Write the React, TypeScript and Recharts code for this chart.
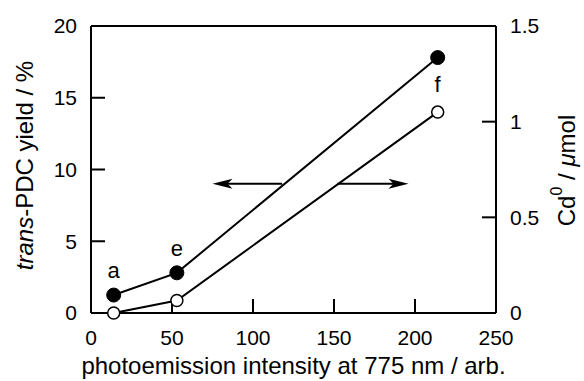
import React from "react";
import {
  LineChart,
  Line,
  XAxis,
  YAxis,
  ReferenceLine,
  LabelList,
  Label,
} from "recharts";

// photoemission intensity (arb.)
const intensity = [14, 53, 214];
// trans-PDC yield / %  (filled circles, left axis)
const pdcYield = [1.25, 2.8, 17.8];
// Cd0 / umol  (open circles, right axis)
const cdAmount = [0, 0.065, 1.05];
const sampleTagsFilled = ["a", "e", ""];
const sampleTagsOpen = ["", "", "f"];

const xTicks = [0, 50, 100, 150, 200, 250];
const leftTicks = [0, 5, 10, 15, 20];
const rightTicks = [0, 0.5, 1, 1.5];

const data = intensity.map((x, i) => ({
  x,
  pdc: pdcYield[i],
  cd: cdAmount[i],
  tagFilled: sampleTagsFilled[i],
  tagOpen: sampleTagsOpen[i],
}));

const FONT = "'Liberation Sans', Arial, sans-serif";

// arrow drawn along a reference segment, head at the second point
const arrowShape = (props: any) => {
  const { x1, y1, x2, y2 } = props;
  const dir = x2 > x1 ? 1 : -1;
  const len = 20;
  const half = 5;
  return (
    <g>
      <line x1={x1} y1={y1} x2={x2 - dir * 10} y2={y2} stroke="#000" strokeWidth={2} />
      <path
        d={`M${x2},${y2} L${x2 - dir * len},${y2 - half} L${x2 - dir * (len - 5)},${y2} L${x2 - dir * len},${y2 + half} Z`}
        fill="#000"
      />
    </g>
  );
};

const LeftTitle = (props: any) => {
  const { viewBox } = props;
  const cx = 24;
  const cy = viewBox.y + viewBox.height / 2 - 4;
  return (
    <text
      x={cx}
      y={cy}
      transform={`rotate(-90, ${cx}, ${cy})`}
      textAnchor="middle"
      dominantBaseline="central"
      fontFamily={FONT}
      fontSize={24}
      fill="#000"
    >
      <tspan fontStyle="italic">trans</tspan>
      <tspan>-PDC yield / %</tspan>
    </text>
  );
};

const RightTitle = (props: any) => {
  const { viewBox } = props;
  const cx = 566;
  const cy = viewBox.y + viewBox.height / 2 + 1;
  return (
    <text
      x={cx}
      y={cy}
      transform={`rotate(-90, ${cx}, ${cy})`}
      textAnchor="middle"
      dominantBaseline="central"
      fontFamily={FONT}
      fontSize={24}
      fill="#000"
    >
      <tspan>Cd</tspan>
      <tspan fontSize={16} dy={-10}>0</tspan>
      <tspan dy={10}> / </tspan>
      <tspan fontStyle="italic">μ</tspan>
      <tspan>mol</tspan>
    </text>
  );
};

const tickStyle = { fontFamily: FONT, fontSize: 21, fill: "#000" };
const tagStyle = { fontFamily: FONT, fontSize: 22, fill: "#000" };

export default function App() {
  return (
    <div style={{ position: "absolute", left: 0, top: 0, background: "#fff" }}>
      <LineChart
        width={584}
        height={381}
        data={data}
        margin={{ top: 26, right: 0, bottom: 0, left: 0 }}
      >
        <XAxis
          type="number"
          dataKey="x"
          domain={[0, 250]}
          ticks={xTicks}
          tick={tickStyle}
          tickSize={-14}
          tickMargin={31}
          axisLine={{ stroke: "#000", strokeWidth: 2 }}
          tickLine={{ stroke: "#000", strokeWidth: 2 }}
          height={68}
        >
          <Label
            value="photoemission intensity at 775 nm / arb."
            position="insideBottom"
            offset={7}
            style={{ fontFamily: FONT, fontSize: 24, fill: "#000" }}
          />
        </XAxis>
        <YAxis
          yAxisId="left"
          domain={[0, 20]}
          ticks={leftTicks}
          tick={tickStyle}
          tickSize={-14}
          tickMargin={28}
          width={91}
          axisLine={{ stroke: "#000", strokeWidth: 2 }}
          tickLine={{ stroke: "#000", strokeWidth: 2 }}
        >
          <Label content={LeftTitle} />
        </YAxis>
        <YAxis
          yAxisId="right"
          orientation="right"
          domain={[0, 1.5]}
          ticks={rightTicks}
          tick={tickStyle}
          tickSize={-14}
          tickMargin={28}
          width={88}
          axisLine={{ stroke: "#000", strokeWidth: 2 }}
          tickLine={{ stroke: "#000", strokeWidth: 2 }}
        >
          <Label content={RightTitle} />
        </YAxis>
        <ReferenceLine yAxisId="left" y={20} stroke="#000" strokeWidth={2} />
        <ReferenceLine
          yAxisId="left"
          segment={[{ x: 118, y: 9 }, { x: 75, y: 9 }]}
          shape={arrowShape}
        />
        <ReferenceLine
          yAxisId="left"
          segment={[{ x: 152, y: 9 }, { x: 196, y: 9 }]}
          shape={arrowShape}
        />
        <Line
          yAxisId="left"
          dataKey="pdc"
          type="linear"
          stroke="#000"
          strokeWidth={2}
          dot={{ r: 7, fill: "#000", stroke: "#000", strokeWidth: 1 }}
          isAnimationActive={false}
        >
          <LabelList dataKey="tagFilled" position="top" offset={17} style={tagStyle} />
        </Line>
        <Line
          yAxisId="right"
          dataKey="cd"
          type="linear"
          stroke="#000"
          strokeWidth={2}
          dot={{ r: 6, fill: "#fff", stroke: "#000", strokeWidth: 1.5 }}
          isAnimationActive={false}
        >
          <LabelList dataKey="tagOpen" position="top" offset={20} style={tagStyle} />
        </Line>
      </LineChart>
    </div>
  );
}
